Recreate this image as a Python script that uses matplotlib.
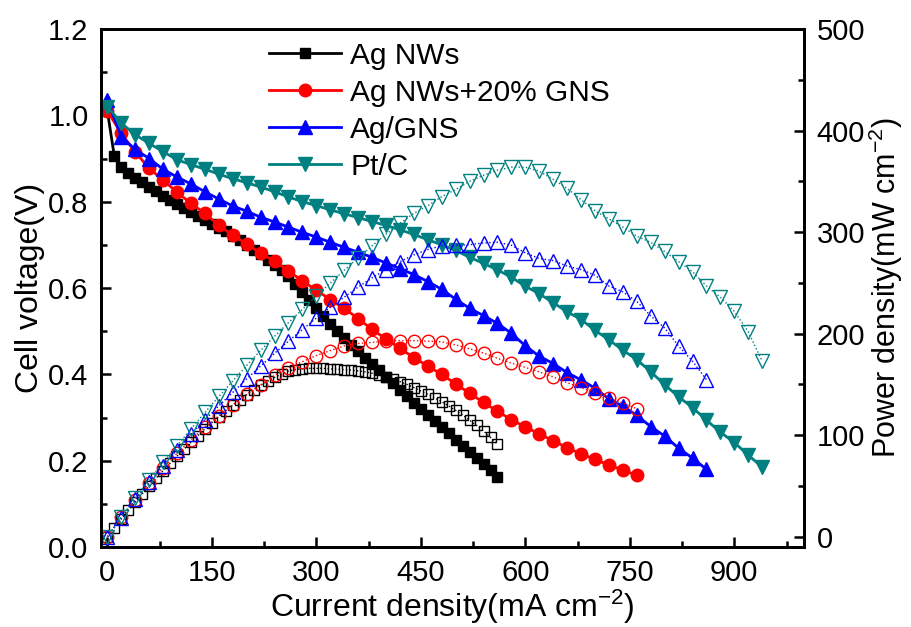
import matplotlib
matplotlib.use("Agg")
import matplotlib.pyplot as plt
from matplotlib.ticker import MultipleLocator, FormatStrFormatter

plt.rcParams['font.family'] = ['Liberation Sans', 'DejaVu Sans']
plt.rcParams['mathtext.fontset'] = 'custom'
plt.rcParams['mathtext.rm'] = 'Liberation Sans'
plt.rcParams['mathtext.default'] = 'regular'

labels = ['Ag NWs', 'Ag NWs+20% GNS', 'Ag/GNS', 'Pt/C']
colors = ['black', '#ff0000', '#0000ff', '#008080']

# Ag NWs (step 10 mA cm-2)
i_ag = list(range(0, 561, 10))
v_ag = [1.010, 0.905, 0.880, 0.866, 0.855, 0.845, 0.834, 0.824, 0.814, 0.804,
        0.795, 0.786, 0.776, 0.767, 0.758, 0.749, 0.740, 0.731, 0.721, 0.711,
        0.700, 0.689, 0.678, 0.666, 0.654, 0.641, 0.628, 0.610, 0.591, 0.572,
        0.553, 0.535, 0.517, 0.500, 0.484, 0.469, 0.454, 0.439, 0.424, 0.409,
        0.394, 0.379, 0.364, 0.349, 0.334, 0.319, 0.305, 0.291, 0.277, 0.263,
        0.249, 0.235, 0.221, 0.207, 0.193, 0.178, 0.163]
p_ag = [0, 9.1, 17.6, 26.0, 34.2, 42.3, 50.0, 57.7, 65.1, 72.4,
        79.5, 86.5, 93.1, 99.7, 106.1, 112.4, 118.4, 124.3, 129.8, 135.1,
        140.0, 144.7, 149.2, 153.2, 157.0, 160.3, 163.3, 164.7, 165.5, 165.9,
        165.9, 165.9, 165.4, 165.0, 164.6, 164.2, 163.4, 162.4, 161.1, 159.5,
        157.6, 155.4, 152.9, 150.1, 147.0, 143.6, 140.3, 136.8, 133.0, 128.9,
        124.5, 119.9, 114.9, 109.7, 104.2, 97.9, 91.3]

# Ag NWs+20% GNS (step 20)
i_mix = list(range(0, 761, 20))
v_mix = [1.010, 0.958, 0.915, 0.877, 0.850, 0.822, 0.796, 0.773, 0.745, 0.722,
         0.702, 0.681, 0.662, 0.640, 0.616, 0.595, 0.573, 0.553, 0.529, 0.504,
         0.482, 0.460, 0.439, 0.419, 0.400, 0.378, 0.356, 0.335, 0.314, 0.295,
         0.278, 0.262, 0.246, 0.230, 0.216, 0.203, 0.190, 0.178, 0.166]
p_mix = [0, 19.2, 36.6, 52.6, 68.0, 82.2, 95.5, 108.2, 119.2, 130.0,
         140.4, 149.8, 158.9, 166.4, 172.5, 178.5, 183.4, 188.0, 190.4, 191.5,
         192.8, 193.2, 193.2, 192.7, 192.0, 189.0, 185.1, 180.9, 175.8, 171.1,
         166.8, 162.4, 157.4, 151.8, 146.9, 142.1, 136.8, 131.7, 126.2]

# Ag/GNS (step 20)
i_gns = list(range(0, 861, 20))
v_gns = [1.035, 0.950, 0.921, 0.900, 0.875, 0.857, 0.841, 0.823, 0.806, 0.790,
         0.778, 0.764, 0.753, 0.741, 0.729, 0.718, 0.706, 0.694, 0.683, 0.671,
         0.658, 0.645, 0.631, 0.615, 0.597, 0.574, 0.553, 0.536, 0.518, 0.495,
         0.466, 0.442, 0.425, 0.404, 0.387, 0.368, 0.343, 0.326, 0.305, 0.279,
         0.257, 0.229, 0.206, 0.180]
p_gns = [0, 19.0, 36.8, 54.0, 70.0, 85.7, 100.9, 115.2, 129.0, 142.2,
         155.6, 168.1, 180.7, 192.7, 204.1, 215.4, 225.9, 236.0, 245.9, 255.0,
         263.2, 270.9, 277.6, 282.9, 286.6, 287.0, 287.6, 289.4, 290.1, 287.1,
         279.6, 274.0, 272.0, 266.6, 263.2, 257.6, 247.0, 241.2, 231.8, 217.6,
         205.6, 187.8, 173.0, 154.8]

# Pt/C (step 20)
i_pt = list(range(0, 941, 20))
v_pt = [1.020, 0.982, 0.955, 0.935, 0.916, 0.897, 0.886, 0.875, 0.864, 0.853,
        0.844, 0.834, 0.823, 0.811, 0.800, 0.791, 0.781, 0.772, 0.763, 0.754,
        0.745, 0.735, 0.724, 0.712, 0.700, 0.687, 0.671, 0.657, 0.642, 0.625,
        0.604, 0.587, 0.566, 0.545, 0.527, 0.502, 0.480, 0.456, 0.434, 0.406,
        0.376, 0.348, 0.323, 0.294, 0.266, 0.242, 0.213, 0.185]
p_pt = [0, 19.6, 38.2, 56.1, 73.3, 89.7, 106.3, 122.5, 138.2, 153.5,
        168.8, 183.5, 197.5, 210.9, 224.0, 237.3, 249.9, 262.5, 274.7, 286.5,
        298.0, 308.7, 318.6, 326, 335, 342, 350, 356, 361, 364,
        364, 360, 352, 343, 332, 321, 313, 305, 296, 290,
        281, 271, 261, 247, 236, 222, 202, 173]

currents = [i_ag, i_mix, i_gns, i_pt]
voltages = [v_ag, v_mix, v_gns, v_pt]
powers = [p_ag, p_mix, p_gns, p_pt]
markers = ['s', 'o', '^', 'v']
fill_sizes = [7.5, 9, 10, 10]
open_sizes = [7.5, 9, 10, 10]

fig = plt.figure(figsize=(9.11, 6.27), dpi=100)
ax = fig.add_axes([0.111, 0.1276, 0.7715, 0.8261])
ax2 = ax.twinx()

for i in range(4):
    ax.plot(currents[i], voltages[i], color=colors[i], marker=markers[i],
            markersize=fill_sizes[i], linewidth=2, label=labels[i])
    ax2.plot(currents[i], powers[i], color=colors[i], marker=markers[i],
             markersize=open_sizes[i], markerfacecolor='none',
             markeredgewidth=1.0, linestyle=':', linewidth=1.0)

ax.set_xlim(-9, 1000)
ax.set_ylim(0, 1.2)
ax2.set_ylim(-10, 500)

ax.xaxis.set_major_locator(MultipleLocator(150))
ax.xaxis.set_minor_locator(MultipleLocator(75))
ax.yaxis.set_major_locator(MultipleLocator(0.2))
ax.yaxis.set_minor_locator(MultipleLocator(0.1))
ax.yaxis.set_major_formatter(FormatStrFormatter('%.1f'))
ax2.yaxis.set_major_locator(MultipleLocator(100))
ax2.yaxis.set_minor_locator(MultipleLocator(50))

ax.tick_params(axis='both', which='both', direction='in', top=False,
               right=False, width=1.8, labelsize=21, pad=9)
ax.tick_params(which='major', length=7)
ax.tick_params(which='minor', length=4)
ax2.tick_params(axis='y', which='both', direction='in', width=1.8,
                labelsize=21, pad=9)
ax2.tick_params(which='major', length=7)
ax2.tick_params(which='minor', length=4)

for a in (ax, ax2):
    for s in a.spines.values():
        s.set_linewidth(2)

ax.set_xlabel('Current density(mA cm$^{-2}$)', fontsize=23, labelpad=0)
ax.set_ylabel('Cell voltage(V)', fontsize=23, labelpad=2)
ax2.set_ylabel('Power density(mW cm$^{-2}$)', fontsize=22, labelpad=1)

ax.legend(loc='upper left', bbox_to_anchor=(0.214, 1.01), frameon=False,
          fontsize=21.5, handlelength=2.4, handletextpad=0.3, labelspacing=0.3,
          borderaxespad=0.2)

fig.savefig('out.png', dpi=100)
